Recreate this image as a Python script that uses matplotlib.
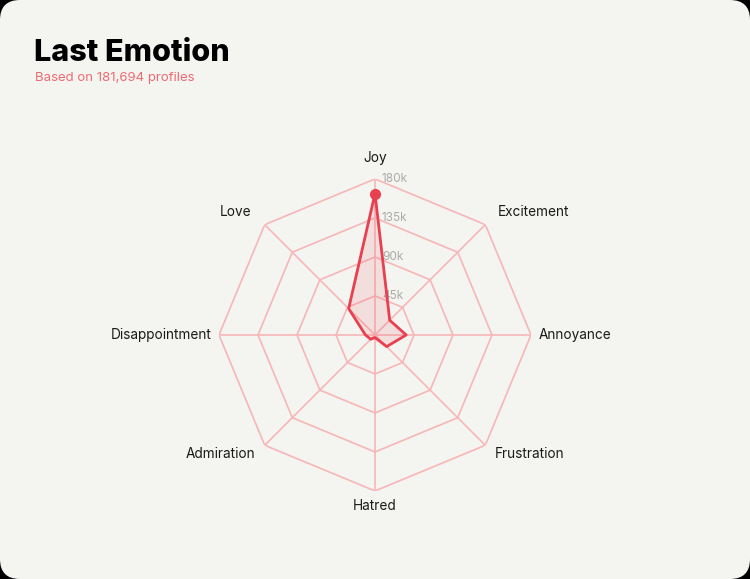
import numpy as np
import matplotlib.pyplot as plt
from matplotlib.patches import FancyBboxPatch
from matplotlib import transforms

plt.rcParams['font.family'] = ['Inter', 'DejaVu Sans']

# data (thousands of profiles)
emotions = ["Joy", "Excitement", "Annoyance", "Frustration",
            "Hatred", "Admiration", "Disappointment", "Love"]
counts_k = [163, 24, 36, 19, 3, 7, 11, 43]
ring_vals = [45, 90, 135, 180]
ring_labels = ["45k", "90k", "135k", "180k"]

title = "Last Emotion"
subtitle = "Based on 181,694 profiles"

bg = "#f4f4f0"
grid_col = "#f7b6b8"
line_col = "#e8404f"
text_col = "#1a1a1a"

fig = plt.figure(figsize=(7.5, 5.79), dpi=100)
fig.patch.set_facecolor("black")
card = FancyBboxPatch((0, 0), 7.5, 5.79,
                      boxstyle="round,pad=0,rounding_size=0.2",
                      transform=fig.dpi_scale_trans,
                      facecolor=bg, edgecolor="none", zorder=-10)
fig.patches.append(card)

fig.text(34 / 750, 1 - 53 / 579, title, fontsize=22, fontweight="heavy",
         color="black", va="center", ha="left")
fig.text(35 / 750, 1 - 78.5 / 579, subtitle, fontsize=9.5,
         color="#ee6b72", va="center", ha="left")

ax = fig.add_axes([0.292, 0.152, 0.416, 0.539], projection="polar")
ax.set_theta_offset(np.pi / 2)
ax.set_theta_direction(-1)
ax.set_facecolor("none")
ax.axis("off")
ax.set_ylim(0, 180)

n = len(emotions)
angles = np.linspace(0, 2 * np.pi, n, endpoint=False)
closed = np.append(angles, angles[0])

# octagon rings and spokes
for v in ring_vals:
    ax.plot(closed, [v] * (n + 1), color=grid_col, lw=1.2, zorder=1)
for a in angles:
    ax.plot([a, a], [0, ring_vals[-1]], color=grid_col, lw=1.2, zorder=1)

# ring value labels
off = transforms.offset_copy(ax.transData, fig=fig, x=5, y=0, units="points")
for v, lab in zip(ring_vals, ring_labels):
    ax.text(0, v, lab, transform=off, ha="left", va="center",
            fontsize=8.5, color="#ababab", zorder=2)

# data polygon
vals = np.append(counts_k, counts_k[0])
ax.fill(closed, vals, color=line_col, alpha=0.12, zorder=3)
ax.plot(closed, vals, color=line_col, lw=2, zorder=4)
ax.plot(angles[0], counts_k[0], "o", color=line_col, ms=7, zorder=5)

# category labels
for a, name in zip(angles, emotions):
    s, c = np.sin(a), np.cos(a)
    if abs(s) < 0.1:
        ha = "center"
        va = "bottom" if c > 0 else "top"
        r = 196 if c > 0 else 189
    elif abs(c) < 0.1:
        ha = "left" if s > 0 else "right"
        va = "center"
        r = 189
    else:
        ha = "left" if s > 0 else "right"
        va = "center"
        r = 201 if c > 0 else 195
    ax.text(a, r, name, ha=ha, va=va, fontsize=9.8, color=text_col)

fig.savefig("out.png", dpi=100, facecolor=fig.get_facecolor())
